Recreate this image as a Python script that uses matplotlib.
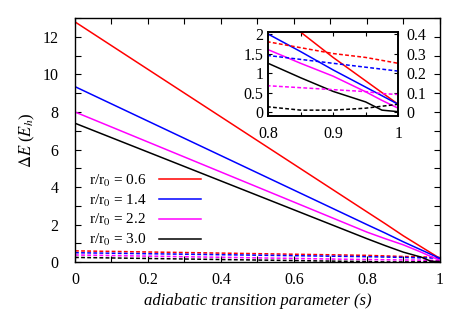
import matplotlib.pyplot as plt
import numpy as np

plt.rcParams['font.family'] = ['Liberation Serif', 'DejaVu Serif']
plt.rcParams['mathtext.fontset'] = 'stix'

# adiabatic transition parameter
s = [0, 0.8, 0.85, 0.9, 0.95, 0.975, 1.0]
labels = ['r/r$_0$ = 0.6', 'r/r$_0$ = 1.4', 'r/r$_0$ = 2.2', 'r/r$_0$ = 3.0']
colors = ['#ff0000', '#0000ff', '#ff00ff', '#000000']

# solid: energy gap (Eh)
gap_06 = [12.8, 2.68, 2.05, 1.4, 0.8, 0.5, 0.2]
gap_14 = [9.35, 2.0, 1.55, 1.08, 0.64, 0.42, 0.2]
gap_22 = [8.0, 1.6, 1.25, 0.92, 0.52, 0.3, 0.1]
gap_30 = [7.4, 1.25, 0.88, 0.53, 0.26, 0.05, 0.01]

# dashed curves (Eh)
dash_06 = [0.6, 0.36, 0.33, 0.30, 0.28, 0.265, 0.25]
dash_14 = [0.5, 0.29, 0.27, 0.25, 0.23, 0.22, 0.21]
dash_22 = [0.38, 0.135, 0.125, 0.115, 0.105, 0.095, 0.09]
dash_30 = [0.25, 0.027, 0.01, 0.01, 0.02, 0.03, 0.04]

gaps = [gap_06, gap_14, gap_22, gap_30]
dashes = [dash_06, dash_14, dash_22, dash_30]

fig = plt.figure(figsize=(4.63, 3.24), dpi=100)
ax = fig.add_axes([0.162, 0.191, 0.788, 0.753])

for g, d, c, lab in zip(gaps, dashes, colors, labels):
    ax.plot(s, g, color=c, lw=1.1, label=lab)
    ax.plot(s, d, color=c, lw=1.1, ls=(0, (2.5, 1.5)))

ax.set_xlim(0, 1)
ax.set_ylim(0, 13)
ax.set_xticks(np.arange(0, 1.01, 0.2))
ax.set_xticklabels(['0', '0.2', '0.4', '0.6', '0.8', '1'])
ax.set_xticks(np.arange(0, 1.01, 0.1), minor=True)
ax.set_yticks(range(0, 13, 2))
ax.set_yticks(range(0, 14), minor=True)
ax.tick_params(which='both', direction='in', top=True, right=True, labelsize=11.5, length=4, width=0.8)
ax.tick_params(axis='x', which='major', pad=7)
ax.tick_params(axis='y', which='major', pad=12)
ax.set_xlabel('adiabatic transition parameter (s)', style='italic', fontsize=12, labelpad=4)
ax.set_ylabel(r'$\Delta E$ ($E_h$)', fontsize=12, labelpad=4)
for sp in ax.spines.values():
    sp.set_linewidth(1.0)

leg = ax.legend(loc='lower left', bbox_to_anchor=(0.0, 0.0), frameon=False,
                markerfirst=False, fontsize=11, handlelength=2.8,
                labelspacing=0.25, handletextpad=0.8)

# inset
ins = fig.add_axes([0.579, 0.642, 0.281, 0.259])
for g, c in zip(gaps, colors):
    ins.plot(s, g, color=c, lw=1.1)
ins.set_xlim(0.8, 1)
ins.set_ylim(-0.1, 2.05)
ins.set_xticks([0.8, 0.9, 1.0])
ins.set_xticklabels(['0.8', '0.9', '1'])
ins.set_xticks([0.85, 0.95], minor=True)
ins.set_yticks([0, 0.5, 1, 1.5, 2])
ins.set_yticklabels(['0', '0.5', '1', '1.5', '2'])
ins.tick_params(which='both', direction='in', top=True, labelsize=11.5, length=3, width=0.8)
ins.tick_params(axis='x', pad=7)

ins2 = ins.twinx()
for d, c in zip(dashes, colors):
    ins2.plot(s, d, color=c, lw=1.1, ls=(0, (2.5, 1.5)))
ins2.set_ylim(-0.02, 0.41)
ins2.set_yticks([0, 0.1, 0.2, 0.3, 0.4])
ins2.set_yticklabels(['0', '0.1', '0.2', '0.3', '0.4'])
ins2.tick_params(direction='in', labelsize=11.5, length=3, width=0.8, pad=6)
for sp in list(ins.spines.values()) + list(ins2.spines.values()):
    sp.set_linewidth(1.2)

fig.savefig('out.png', dpi=100)
